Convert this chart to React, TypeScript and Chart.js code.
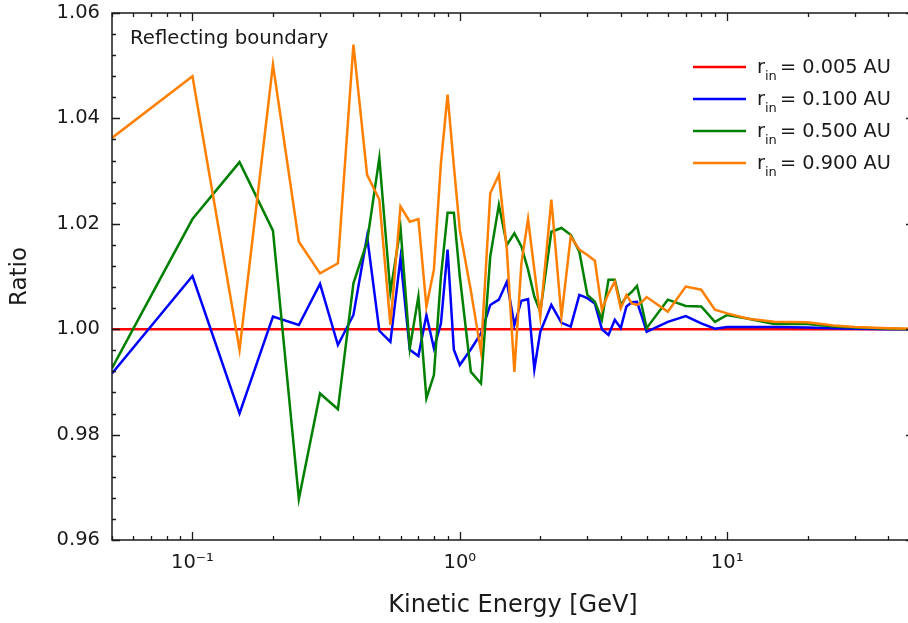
import { useEffect, useRef } from "react";
import { Chart, registerables } from "chart.js";

Chart.register(...registerables);

// Kinetic energy grid [GeV]
const energies = [
  0.05, 0.1, 0.15, 0.2, 0.25, 0.3, 0.35, 0.4, 0.45, 0.5,
  0.55, 0.6, 0.65, 0.7, 0.75, 0.8, 0.85, 0.9, 0.95, 1.0,
  1.1, 1.2, 1.3, 1.4, 1.5, 1.6, 1.7, 1.8, 1.9, 2.0,
  2.2, 2.4, 2.6, 2.8, 3.0, 3.2, 3.4, 3.6, 3.8, 4.0,
  4.2, 4.4, 4.6, 4.8, 5.0, 6, 7, 8, 9, 10,
  12, 15, 20, 25, 30, 40, 50,
];

const ratioR005 = [
  1.0, 1.0, 1.0, 1.0, 1.0, 1.0, 1.0, 1.0, 1.0, 1.0,
  1.0, 1.0, 1.0, 1.0, 1.0, 1.0, 1.0, 1.0, 1.0, 1.0,
  1.0, 1.0, 1.0, 1.0, 1.0, 1.0, 1.0, 1.0, 1.0, 1.0,
  1.0, 1.0, 1.0, 1.0, 1.0, 1.0, 1.0, 1.0, 1.0, 1.0,
  1.0, 1.0, 1.0, 1.0, 1.0, 1.0, 1.0, 1.0, 1.0, 1.0,
  1.0, 1.0, 1.0, 1.0, 1.0, 1.0, 1.0,
];

const ratioR100 = [
  0.9916, 1.0101, 0.984, 1.0024, 1.0008, 1.0086, 0.997, 1.0027, 1.0176, 0.9997,
  0.9976, 1.0135, 0.9961, 0.9949, 1.0027, 0.9964, 1.0011, 1.0151, 0.9961, 0.9932,
  0.9962, 0.9992, 1.0046, 1.0056, 1.009, 1.0008, 1.0054, 1.0057, 0.9924, 0.9995,
  1.0046, 1.0012, 1.0005, 1.0065, 1.0059, 1.0049, 1.0, 0.9989, 1.0018, 1.0002,
  1.0043, 1.0051, 1.0052, 1.0024, 0.9995, 1.0014, 1.0025, 1.0011, 1.0001, 1.0004,
  1.0004, 1.0004, 1.0003, 1.0002, 1.0001, 1.0, 1.0,
];

const ratioR500 = [
  0.9926, 1.0209, 1.0317, 1.0187, 0.9678, 0.9878, 0.9848, 1.0087, 1.0166, 1.0325,
  1.007, 1.0192, 0.9964, 1.0062, 0.9869, 0.9913, 1.01, 1.0221, 1.0221, 1.01,
  0.9919, 0.9897, 1.0138, 1.0236, 1.016, 1.0182, 1.0157, 1.0113, 1.0062, 1.0033,
  1.0185, 1.0192, 1.0179, 1.0147, 1.0065, 1.0052, 1.0018, 1.0094, 1.0094, 1.0046,
  1.0062, 1.0071, 1.0082, 1.0043, 1.0002, 1.0056, 1.0044, 1.0043, 1.0014, 1.0027,
  1.002, 1.001, 1.001, 1.0005, 1.0003, 1.0001, 1.0,
];

const ratioR900 = [
  1.0363, 1.048, 0.9961, 1.0502, 1.0166, 1.0106, 1.0125, 1.054, 1.0293, 1.0246,
  1.0008, 1.0233, 1.0204, 1.0209, 1.0043, 1.0113, 1.0315, 1.0445, 1.031, 1.0188,
  1.0073, 0.9957, 1.0258, 1.0293, 1.015, 0.9919, 1.0125, 1.0209, 1.0113, 1.0024,
  1.0246, 1.0024, 1.0176, 1.0151, 1.0141, 1.013, 1.0037, 1.0068, 1.009, 1.004,
  1.0065, 1.0049, 1.0046, 1.0052, 1.0061, 1.0033, 1.0081, 1.0075, 1.0037, 1.003,
  1.002, 1.0014, 1.0013, 1.0007, 1.0004, 1.0002, 1.0001,
];

const seriesValues = [ratioR005, ratioR100, ratioR500, ratioR900];
const seriesRadii = ["0.005", "0.100", "0.500", "0.900"];
const seriesColors = ["#ff0000", "#0000ff", "#008000", "#ff8000"];

const xMajorTicks = [0.1, 1, 10];
const xMajorLabels = ["10\u207B\u00B9", "10\u2070", "10\u00B9"];
const yTickLabels = ["0.96", "0.98", "1.00", "1.02", "1.04", "1.06"];

const annotationText = "Reflecting boundary";
const xTitle = "Kinetic Energy [GeV]";
const yTitle = "Ratio";

const FONT = "'DejaVu Sans', 'Liberation Sans', Arial, sans-serif";
const INK = "#1a1a1a";

const decorPlugin = {
  id: "decor",
  afterDraw(chart: any) {
    const { ctx, chartArea } = chart;
    const { left, right, top, bottom } = chartArea;
    const xs = chart.scales.x;
    const ys = chart.scales.y;
    ctx.save();
    ctx.strokeStyle = INK;
    ctx.lineWidth = 1.5;
    ctx.strokeRect(left, top, right - left, bottom - top);
    ctx.lineWidth = 1.3;
    ctx.beginPath();
    for (let e = -2; e <= 1; e++) {
      for (let m = 1; m <= 9; m++) {
        const v = m * Math.pow(10, e);
        if (v < xs.min * 0.999 || v > xs.max * 1.001) continue;
        const px = Math.round(xs.getPixelForValue(v)) + 0.5;
        const len = m === 1 ? 8 : 4;
        ctx.moveTo(px, bottom);
        ctx.lineTo(px, bottom - len);
        ctx.moveTo(px, top);
        ctx.lineTo(px, top + len);
      }
    }
    for (let i = 0; i <= 25; i++) {
      const v = ys.min + (i * (ys.max - ys.min)) / 25;
      const py = Math.round(ys.getPixelForValue(v)) + 0.5;
      const len = i % 5 === 0 ? 8 : 4;
      ctx.moveTo(left, py);
      ctx.lineTo(left + len, py);
      ctx.moveTo(right, py);
      ctx.lineTo(right - len, py);
    }
    ctx.stroke();

    // annotation
    ctx.fillStyle = INK;
    ctx.textBaseline = "alphabetic";
    ctx.textAlign = "left";
    ctx.font = `19.7px ${FONT}`;
    ctx.fillText(annotationText, left + 18, top + 31);

    // legend
    const lineX0 = right - 221;
    const lineX1 = right - 168;
    const textX = right - 157;
    for (let i = 0; i < seriesRadii.length; i++) {
      const ry = top + 54 + i * 32;
      ctx.strokeStyle = seriesColors[i];
      ctx.lineWidth = 2.5;
      ctx.beginPath();
      ctx.moveTo(lineX0, ry);
      ctx.lineTo(lineX1, ry);
      ctx.stroke();
      ctx.fillStyle = INK;
      ctx.font = `19.3px ${FONT}`;
      ctx.fillText("r", textX, ry + 6);
      const rw = ctx.measureText("r").width;
      ctx.font = `13px ${FONT}`;
      ctx.fillText("in", textX + rw, ry + 12.5);
      ctx.font = `19.3px ${FONT}`;
      ctx.fillText(`= ${seriesRadii[i]} AU`, textX + 23, ry + 6);
    }
    ctx.restore();
  },
};

export default function App() {
  const canvasRef = useRef<HTMLCanvasElement | null>(null);

  useEffect(() => {
    const canvas = canvasRef.current;
    if (!canvas) return;
    const order = [4, 3, 2, 1];
    const datasets = seriesValues.map((vals, i) => ({
      label: `r_in = ${seriesRadii[i]} AU`,
      data: energies.map((e, j) => ({ x: e, y: vals[j] })),
      borderColor: seriesColors[i],
      backgroundColor: seriesColors[i],
      borderWidth: 2.5,
      pointRadius: 0,
      tension: 0,
      fill: false,
      order: order[i],
    }));
    const chart = new Chart(canvas, {
      type: "line",
      data: { datasets },
      options: {
        animation: false,
        responsive: false,
        maintainAspectRatio: false,
        devicePixelRatio: 1,
        layout: { padding: { left: 0, top: 13, right: 16, bottom: 0 } },
        plugins: {
          legend: { display: false },
          tooltip: { enabled: false },
        },
        scales: {
          x: {
            type: "logarithmic",
            min: 0.05,
            max: 50,
            grid: { display: false, drawTicks: false },
            border: { display: false },
            ticks: {
              autoSkip: false,
              maxRotation: 0,
              padding: 11,
              color: INK,
              font: { family: FONT, size: 19.5 },
              callback: (value: any) => {
                const v = Number(value);
                const idx = xMajorTicks.findIndex((t) => Math.abs(t - v) / t < 1e-6);
                return idx >= 0 ? xMajorLabels[idx] : "";
              },
            },
            title: {
              display: true,
              text: xTitle,
              color: INK,
              font: { family: FONT, size: 24 },
              padding: { top: 0, bottom: 2.6 },
            },
            afterFit: (s: any) => {
              s.height = 83;
              s.paddingLeft = 0;
              s.paddingRight = 0;
            },
          },
          y: {
            type: "linear",
            min: 0.96,
            max: 1.06,
            grid: { display: false, drawTicks: false },
            border: { display: false },
            ticks: {
              stepSize: 0.02,
              padding: 12,
              color: INK,
              font: { family: FONT, size: 19.5 },
              callback: (value: any) => {
                const v = Number(value);
                const idx = Math.round((v - 0.96) / 0.02);
                return yTickLabels[idx] ?? "";
              },
            },
            title: {
              display: true,
              text: yTitle,
              color: INK,
              font: { family: FONT, size: 23 },
              padding: { top: 6, bottom: 0 },
            },
            afterFit: (s: any) => {
              s.width = 112;
              s.paddingTop = 0;
              s.paddingBottom = 0;
            },
          },
        },
      },
      plugins: [decorPlugin],
    });
    return () => chart.destroy();
  }, []);

  return (
    <div
      style={{
        position: "fixed",
        left: 0,
        top: 0,
        width: 908,
        height: 623,
        overflow: "hidden",
        background: "#ffffff",
      }}
    >
      <canvas
        ref={canvasRef}
        width={930}
        height={623}
        style={{ width: 930, height: 623, display: "block" }}
      />
    </div>
  );
}
